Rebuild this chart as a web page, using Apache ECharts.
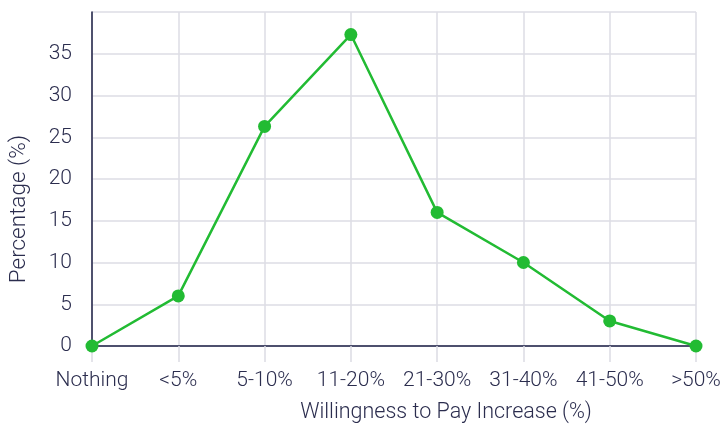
<!DOCTYPE html>
<html>
<head>
<meta charset="utf-8">
<script src="https://cdn.jsdelivr.net/npm/echarts@6/dist/echarts.min.js"></script>
<style>
  html, body { margin: 0; padding: 0; background: #ffffff; }
  #chart { width: 721px; height: 425px; }
</style>
</head>
<body>
<div id="chart"></div>
<script>
// Share of respondents by how much more they would pay
const categories = ['Nothing', '<5%', '5-10%', '11-20%', '21-30%', '31-40%', '41-50%', '>50%'];
const percentages = [0, 6, 26.3, 37.3, 16, 10, 3, 0];

const textColor = '#2b2d4e';
const axisColor = '#1c1f45';
const gridColor = '#dcdce4';
const lineColor = '#22bb33';
const fontFamily = 'Roboto';
const fontSize = 21;

const chart = echarts.init(document.getElementById('chart'), null, { renderer: 'canvas' });

chart.setOption({
  animation: false,
  backgroundColor: '#ffffff',
  grid: { left: 92, right: 25, top: 12, bottom: 79, containLabel: false, outerBoundsMode: 'none' },
  xAxis: {
    type: 'category',
    data: categories,
    boundaryGap: false,
    name: 'Willingness to Pay Increase (%)',
    nameLocation: 'middle',
    nameGap: 56,
    nameTextStyle: {
      color: textColor, fontSize: 21.5, fontFamily: fontFamily, fontWeight: 300,
      padding: [0, 0, 0, 104]
    },
    axisLine: { show: true, lineStyle: { color: axisColor, width: 1.5 } },
    axisTick: { show: true, alignWithLabel: true, length: 16, lineStyle: { color: gridColor, width: 1.5 } },
    axisLabel: { color: textColor, fontSize: fontSize, fontFamily: fontFamily, fontWeight: 300, margin: 24, interval: 0 },
    splitLine: { show: true, lineStyle: { color: gridColor, width: 1.5 } }
  },
  yAxis: {
    type: 'value',
    min: 0,
    max: 40,
    interval: 5,
    name: 'Percentage (%)',
    nameLocation: 'middle',
    nameGap: 61,
    nameTextStyle: {
      color: textColor, fontSize: 22.5, fontFamily: fontFamily, fontWeight: 300,
      padding: [0, 60, 0, 0]
    },
    axisLine: { show: true, lineStyle: { color: axisColor, width: 1.5 } },
    axisTick: { show: false },
    axisLabel: { color: textColor, fontSize: fontSize, fontFamily: fontFamily, fontWeight: 300, margin: 20, showMaxLabel: false },
    splitLine: { show: true, lineStyle: { color: gridColor, width: 1.5 } }
  },
  series: [{
    type: 'line',
    data: percentages,
    symbol: 'circle',
    symbolSize: 13,
    lineStyle: { color: lineColor, width: 2.5 },
    itemStyle: { color: lineColor },
    z: 5
  }]
});
</script>
</body>
</html>
